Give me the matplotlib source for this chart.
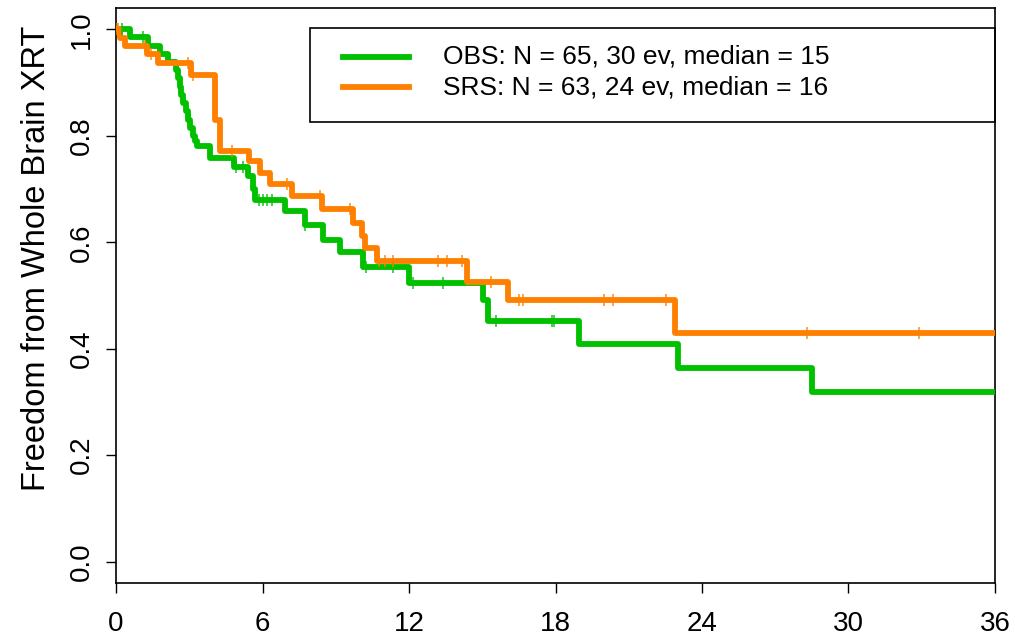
import numpy as np
import matplotlib
matplotlib.use("Agg")
import matplotlib.pyplot as plt
from matplotlib.patches import Rectangle
from matplotlib.lines import Line2D

plt.rcParams["font.family"] = ["Liberation Sans", "DejaVu Sans"]

# Kaplan-Meier step points: time (months) and survival level after the step
obs_times = [0, 0.57, 1.31, 1.80, 2.13, 2.46, 2.55, 2.62, 2.68, 2.74, 2.86, 2.95,
             3.05, 3.14, 3.22, 3.30, 3.85, 4.83, 5.40, 5.60, 5.70, 6.92, 7.74,
             8.48, 9.17, 10.11, 11.98, 15.03, 15.23, 18.96, 23.01, 28.50, 36.0]
obs_surv = [1.0, 0.985, 0.969, 0.954, 0.938, 0.923, 0.908, 0.892, 0.877, 0.861,
            0.846, 0.830, 0.815, 0.800, 0.790, 0.780, 0.759, 0.742, 0.724, 0.700,
            0.680, 0.658, 0.632, 0.605, 0.581, 0.553, 0.524, 0.492, 0.453, 0.408,
            0.363, 0.318, 0.318]
obs_censor = [0.25, 1.1, 3.03, 4.9, 5.2, 5.86, 6.02, 6.18, 6.39, 7.74, 10.25,
              11.35, 12.16, 13.4, 15.56, 17.85, 17.94]

srs_times = [0, 0.18, 0.35, 1.27, 1.72, 3.08, 4.05, 4.26, 5.45, 5.90, 6.31, 7.21,
             8.44, 9.70, 10.07, 10.20, 10.69, 14.37, 16.05, 22.89, 36.0]
srs_surv = [1.0, 0.984, 0.968, 0.953, 0.937, 0.915, 0.830, 0.771, 0.752, 0.731,
            0.709, 0.686, 0.662, 0.637, 0.611, 0.590, 0.564, 0.526, 0.491, 0.429,
            0.429]
srs_censor = [0.05, 0.1, 1.2, 1.43, 2.95, 3.15, 4.75, 7.0, 8.35, 9.6, 10.77,
              11.02, 11.34, 13.19, 13.55, 14.17, 15.36, 16.5, 16.67, 19.98,
              20.35, 22.52, 28.3, 32.88]

legend_labels = ["OBS: N = 65, 30 ev, median = 15",
                 "SRS: N = 63, 24 ev, median = 16"]
x_ticks = [0, 6, 12, 18, 24, 30, 36]
y_ticks = [0.0, 0.2, 0.4, 0.6, 0.8, 1.0]

GREEN = "#00C000"
ORANGE = "#FF8000"


def level_at(times, surv, t):
    idx = np.searchsorted(times, t, side="right") - 1
    return np.asarray(surv)[idx]


fig = plt.figure(figsize=(10.15, 6.39), dpi=100)
ax = fig.add_axes([116 / 1015, 56 / 639, 879 / 1015, 575 / 639])

for times, surv, cens, col in [(obs_times, obs_surv, obs_censor, GREEN),
                               (srs_times, srs_surv, srs_censor, ORANGE)]:
    ax.step(times, surv, where="post", color=col, lw=4.2,
            solid_joinstyle="round", solid_capstyle="butt", zorder=3)
    ax.plot(cens, level_at(times, surv, cens), ls="none", marker="|",
            ms=9, mew=1.2, color=col, alpha=0.85, zorder=4)

ax.set_xlim(0, 36)
ax.set_ylim(-0.04, 1.04)
ax.set_xticks(x_ticks)
ax.set_xticklabels([str(v) for v in x_ticks], fontsize=20)
ax.set_yticks(y_ticks)
ax.set_yticklabels([f"{v:.1f}" for v in y_ticks], fontsize=20,
                   rotation=90, va="center")
ax.tick_params(axis="x", direction="out", length=7, width=1, pad=13)
ax.tick_params(axis="y", direction="out", length=7, width=1, pad=8)
ax.set_ylabel("Freedom from Whole Brain XRT", fontsize=23.5)
ax.yaxis.set_label_coords(-0.073, 0.565)

for sp in ax.spines.values():
    sp.set_linewidth(1.2)
    sp.set_color("black")

# legend box drawn in axes fraction coordinates
ax.add_patch(Rectangle((0.2207, 0.8017), 1.0 - 0.2207, 0.9652 - 0.8017,
                       transform=ax.transAxes, fill=False, edgecolor="black",
                       lw=1.2, zorder=5, clip_on=False))
for yy, col, lab in [(0.9148, GREEN, legend_labels[0]),
                     (0.8626, ORANGE, legend_labels[1])]:
    ax.add_line(Line2D([0.2583, 0.3333], [yy, yy], transform=ax.transAxes,
                       color=col, lw=4.2, zorder=6))
    ax.text(0.372, yy, lab, transform=ax.transAxes, fontsize=19,
            va="center", ha="left", zorder=6)

fig.savefig("out.png", dpi=100)
